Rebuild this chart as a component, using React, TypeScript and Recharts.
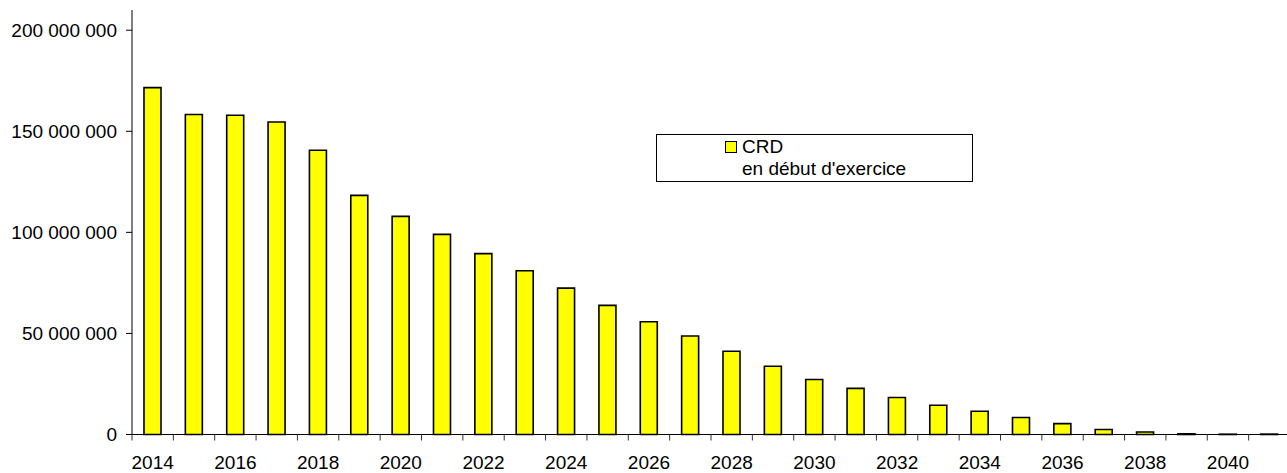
import React from "react";
import { BarChart, Bar, XAxis, YAxis, Legend } from "recharts";

const years = [
  "2014", "2015", "2016", "2017", "2018", "2019", "2020", "2021", "2022", "2023",
  "2024", "2025", "2026", "2027", "2028", "2029", "2030", "2031", "2032", "2033",
  "2034", "2035", "2036", "2037", "2038", "2039", "2040", "2041",
];

const crdValues = [
  171600000, 158300000, 157900000, 154600000, 140600000, 118300000, 107900000, 99000000,
  89500000, 81000000, 72400000, 63900000, 55800000, 48700000, 41200000, 33800000,
  27200000, 22800000, 18300000, 14500000, 11500000, 8400000, 5400000, 2500000,
  1200000, 350000, 150000, 200000,
];

const yTicks = [0, 50000000, 100000000, 150000000, 200000000];

const seriesName = "CRD";
const seriesSubtitle = "en début d'exercice";

const data = years.map((y, i) => ({ year: y, crd: crdValues[i] }));

const FONT = "'Liberation Sans', Arial, sans-serif";
const FS = 19;

const fmt = (v: number) =>
  String(Math.round(v)).replace(/\B(?=(\d{3})+(?!\d))/g, " ");

const CatTick = (p: any) => {
  const { x, y, payload, index } = p;
  const off = payload && typeof payload.offset === "number" ? payload.offset : 0;
  const left = x - off;
  return (
    <g>
      <line x1={left} x2={left} y1={y} y2={y + 6} stroke="#333" strokeWidth={1} />
      {index % 2 === 0 ? (
        <text
          x={x}
          y={y + 21}
          dy="0.71em"
          textAnchor="middle"
          fill="#000"
          fontSize={FS}
          fontFamily={FONT}
        >
          {payload.value}
        </text>
      ) : null}
    </g>
  );
};

const LegendBox = () => (
  <div
    style={{
      position: "relative",
      width: 317,
      height: 48,
      boxSizing: "border-box",
      border: "1px solid #000",
      background: "#fff",
      fontFamily: FONT,
      fontSize: FS,
      lineHeight: "22px",
      color: "#000",
    }}
  >
    <div
      style={{
        position: "absolute",
        left: 68,
        top: 6,
        width: 12,
        height: 12,
        boxSizing: "border-box",
        border: "1.5px solid #000",
        background: "#FFFF00",
      }}
    />
    <div style={{ position: "absolute", left: 85, top: 1, whiteSpace: "nowrap" }}>
      <div>{seriesName}</div>
      <div>{seriesSubtitle}</div>
    </div>
  </div>
);

export default function App() {
  return (
    <div
      style={{
        position: "absolute",
        left: 0,
        top: 0,
        width: 1287,
        height: 473,
        overflow: "hidden",
        background: "#fff",
      }}
    >
      <BarChart
        width={1290}
        height={473}
        data={data}
        margin={{ top: 10, right: 0, left: 0, bottom: 0 }}
        barCategoryGap="29%"
      >
        <XAxis
          dataKey="year"
          type="category"
          height={38.5}
          interval={0}
          axisLine={{ stroke: "#000", strokeWidth: 1 }}
          tickLine={false}
          tickSize={0}
          tickMargin={0}
          tick={CatTick}
        />
        <YAxis
          width={132}
          domain={[0, 210000000]}
          ticks={yTicks}
          tickFormatter={fmt}
          tickSize={6}
          tickMargin={9}
          axisLine={{ stroke: "#000", strokeWidth: 1 }}
          tickLine={{ stroke: "#000", strokeWidth: 1 }}
          tick={{ fill: "#000", fontSize: FS, fontFamily: FONT }}
        />
        <Legend
          layout="vertical"
          align="center"
          verticalAlign="middle"
          wrapperStyle={{ left: 656, top: 134, width: 317, height: 48 }}
          content={() => <LegendBox />}
        />
        <Bar
          dataKey="crd"
          name={seriesName}
          fill="#FFFF00"
          stroke="#000"
          strokeWidth={1.6}
          isAnimationActive={false}
        />
      </BarChart>
    </div>
  );
}
